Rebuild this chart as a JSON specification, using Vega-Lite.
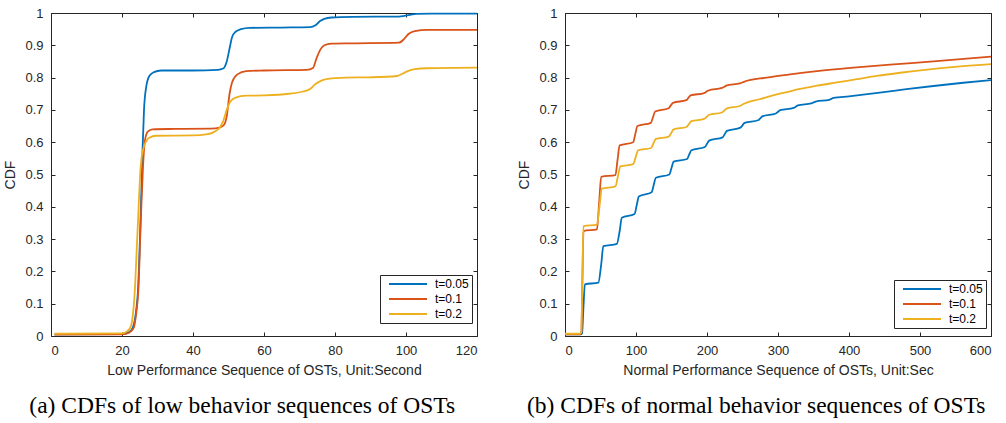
{
"$schema": "https://vega.github.io/schema/vega-lite/v6.json",
"padding": {"left": 3, "top": 6, "right": 3, "bottom": 3},
"datasets": {
"low": [
{"t":"t=0.05","x":1,"y":0.005},{"t":"t=0.05","x":20,"y":0.006},{"t":"t=0.05","x":22,"y":0.012},{"t":"t=0.05","x":23,"y":0.025},{"t":"t=0.05","x":24,"y":0.08},{"t":"t=0.05","x":24.5,"y":0.14},{"t":"t=0.05","x":25.2,"y":0.35},{"t":"t=0.05","x":25.8,"y":0.58},{"t":"t=0.05","x":26.2,"y":0.7},{"t":"t=0.05","x":26.8,"y":0.77},{"t":"t=0.05","x":27.7,"y":0.805},{"t":"t=0.05","x":29,"y":0.817},{"t":"t=0.05","x":31,"y":0.822},{"t":"t=0.05","x":40,"y":0.822},{"t":"t=0.05","x":47,"y":0.824},{"t":"t=0.05","x":48.5,"y":0.828},{"t":"t=0.05","x":49.5,"y":0.85},{"t":"t=0.05","x":50.3,"y":0.89},{"t":"t=0.05","x":51,"y":0.925},{"t":"t=0.05","x":52,"y":0.942},{"t":"t=0.05","x":53.5,"y":0.95},{"t":"t=0.05","x":56,"y":0.954},{"t":"t=0.05","x":65,"y":0.955},{"t":"t=0.05","x":73,"y":0.956},{"t":"t=0.05","x":74.5,"y":0.962},{"t":"t=0.05","x":75.8,"y":0.975},{"t":"t=0.05","x":77,"y":0.982},{"t":"t=0.05","x":79,"y":0.986},{"t":"t=0.05","x":85,"y":0.988},{"t":"t=0.05","x":98,"y":0.989},{"t":"t=0.05","x":99.5,"y":0.991},{"t":"t=0.05","x":101,"y":0.994},{"t":"t=0.05","x":103,"y":0.997},{"t":"t=0.05","x":107,"y":0.998},{"t":"t=0.05","x":120,"y":0.998},
{"t":"t=0.1","x":1,"y":0.004},{"t":"t=0.1","x":20,"y":0.005},{"t":"t=0.1","x":22,"y":0.01},{"t":"t=0.1","x":23.3,"y":0.025},{"t":"t=0.1","x":24,"y":0.07},{"t":"t=0.1","x":24.6,"y":0.14},{"t":"t=0.1","x":25.3,"y":0.36},{"t":"t=0.1","x":25.9,"y":0.52},{"t":"t=0.1","x":26.4,"y":0.6},{"t":"t=0.1","x":27.2,"y":0.632},{"t":"t=0.1","x":28.6,"y":0.64},{"t":"t=0.1","x":35,"y":0.641},{"t":"t=0.1","x":45,"y":0.642},{"t":"t=0.1","x":47.5,"y":0.645},{"t":"t=0.1","x":48.8,"y":0.655},{"t":"t=0.1","x":49.5,"y":0.68},{"t":"t=0.1","x":50.3,"y":0.75},{"t":"t=0.1","x":51,"y":0.785},{"t":"t=0.1","x":52.5,"y":0.81},{"t":"t=0.1","x":55,"y":0.82},{"t":"t=0.1","x":60,"y":0.822},{"t":"t=0.1","x":72,"y":0.824},{"t":"t=0.1","x":73.8,"y":0.83},{"t":"t=0.1","x":74.8,"y":0.86},{"t":"t=0.1","x":75.8,"y":0.885},{"t":"t=0.1","x":77,"y":0.9},{"t":"t=0.1","x":79,"y":0.905},{"t":"t=0.1","x":85,"y":0.906},{"t":"t=0.1","x":98,"y":0.908},{"t":"t=0.1","x":99.5,"y":0.92},{"t":"t=0.1","x":100.7,"y":0.935},{"t":"t=0.1","x":102.5,"y":0.944},{"t":"t=0.1","x":106,"y":0.948},{"t":"t=0.1","x":120,"y":0.948},
{"t":"t=0.2","x":1,"y":0.007},{"t":"t=0.2","x":20,"y":0.008},{"t":"t=0.2","x":21.5,"y":0.015},{"t":"t=0.2","x":22.5,"y":0.03},{"t":"t=0.2","x":23,"y":0.06},{"t":"t=0.2","x":23.5,"y":0.12},{"t":"t=0.2","x":24.4,"y":0.33},{"t":"t=0.2","x":25.3,"y":0.53},{"t":"t=0.2","x":26,"y":0.58},{"t":"t=0.2","x":26.8,"y":0.603},{"t":"t=0.2","x":27.7,"y":0.614},{"t":"t=0.2","x":29.6,"y":0.62},{"t":"t=0.2","x":40,"y":0.621},{"t":"t=0.2","x":43.7,"y":0.624},{"t":"t=0.2","x":46,"y":0.632},{"t":"t=0.2","x":47.5,"y":0.645},{"t":"t=0.2","x":48.5,"y":0.665},{"t":"t=0.2","x":49.5,"y":0.7},{"t":"t=0.2","x":50.5,"y":0.725},{"t":"t=0.2","x":52,"y":0.738},{"t":"t=0.2","x":55,"y":0.744},{"t":"t=0.2","x":60,"y":0.745},{"t":"t=0.2","x":67,"y":0.75},{"t":"t=0.2","x":71,"y":0.757},{"t":"t=0.2","x":73,"y":0.765},{"t":"t=0.2","x":74.5,"y":0.78},{"t":"t=0.2","x":76,"y":0.79},{"t":"t=0.2","x":78,"y":0.796},{"t":"t=0.2","x":83,"y":0.8},{"t":"t=0.2","x":90,"y":0.801},{"t":"t=0.2","x":97.5,"y":0.805},{"t":"t=0.2","x":99,"y":0.812},{"t":"t=0.2","x":100.5,"y":0.82},{"t":"t=0.2","x":102.5,"y":0.826},{"t":"t=0.2","x":106,"y":0.829},{"t":"t=0.2","x":120,"y":0.831}
],
"normal": [
{"t":"t=0.05","x":0,"y":0.005},{"t":"t=0.05","x":22,"y":0.005},{"t":"t=0.05","x":24,"y":0.008},{"t":"t=0.05","x":26,"y":0.09},{"t":"t=0.05","x":28,"y":0.16},{"t":"t=0.05","x":47,"y":0.165},{"t":"t=0.05","x":51,"y":0.222},{"t":"t=0.05","x":54,"y":0.278},{"t":"t=0.05","x":73,"y":0.285},{"t":"t=0.05","x":77,"y":0.325},{"t":"t=0.05","x":80,"y":0.366},{"t":"t=0.05","x":98,"y":0.378},{"t":"t=0.05","x":101,"y":0.405},{"t":"t=0.05","x":104,"y":0.432},{"t":"t=0.05","x":122,"y":0.445},{"t":"t=0.05","x":125,"y":0.468},{"t":"t=0.05","x":128,"y":0.49},{"t":"t=0.05","x":147,"y":0.5},{"t":"t=0.05","x":150,"y":0.52},{"t":"t=0.05","x":153,"y":0.54},{"t":"t=0.05","x":172,"y":0.548},{"t":"t=0.05","x":175,"y":0.562},{"t":"t=0.05","x":178,"y":0.575},{"t":"t=0.05","x":197,"y":0.585},{"t":"t=0.05","x":200,"y":0.595},{"t":"t=0.05","x":203,"y":0.605},{"t":"t=0.05","x":222,"y":0.615},{"t":"t=0.05","x":225,"y":0.625},{"t":"t=0.05","x":228,"y":0.635},{"t":"t=0.05","x":247,"y":0.645},{"t":"t=0.05","x":250,"y":0.652},{"t":"t=0.05","x":253,"y":0.66},{"t":"t=0.05","x":272,"y":0.668},{"t":"t=0.05","x":275,"y":0.674},{"t":"t=0.05","x":278,"y":0.68},{"t":"t=0.05","x":297,"y":0.689},{"t":"t=0.05","x":300,"y":0.694},{"t":"t=0.05","x":303,"y":0.699},{"t":"t=0.05","x":322,"y":0.706},{"t":"t=0.05","x":325,"y":0.71},{"t":"t=0.05","x":328,"y":0.714},{"t":"t=0.05","x":347,"y":0.72},{"t":"t=0.05","x":350,"y":0.723},{"t":"t=0.05","x":353,"y":0.726},{"t":"t=0.05","x":372,"y":0.731},{"t":"t=0.05","x":375,"y":0.734},{"t":"t=0.05","x":378,"y":0.737},{"t":"t=0.05","x":400,"y":0.742},{"t":"t=0.05","x":420,"y":0.747},{"t":"t=0.05","x":449,"y":0.755},{"t":"t=0.05","x":481,"y":0.764},{"t":"t=0.05","x":519,"y":0.774},{"t":"t=0.05","x":561,"y":0.784},{"t":"t=0.05","x":600,"y":0.792},
{"t":"t=0.1","x":0,"y":0.005},{"t":"t=0.1","x":21,"y":0.005},{"t":"t=0.1","x":23,"y":0.01},{"t":"t=0.1","x":24.5,"y":0.17},{"t":"t=0.1","x":26,"y":0.325},{"t":"t=0.1","x":45,"y":0.33},{"t":"t=0.1","x":48,"y":0.41},{"t":"t=0.1","x":51,"y":0.493},{"t":"t=0.1","x":71,"y":0.498},{"t":"t=0.1","x":74,"y":0.545},{"t":"t=0.1","x":77,"y":0.59},{"t":"t=0.1","x":96,"y":0.6},{"t":"t=0.1","x":99,"y":0.625},{"t":"t=0.1","x":102,"y":0.65},{"t":"t=0.1","x":121,"y":0.66},{"t":"t=0.1","x":124,"y":0.678},{"t":"t=0.1","x":127,"y":0.695},{"t":"t=0.1","x":146,"y":0.705},{"t":"t=0.1","x":149,"y":0.714},{"t":"t=0.1","x":152,"y":0.722},{"t":"t=0.1","x":171,"y":0.73},{"t":"t=0.1","x":174,"y":0.738},{"t":"t=0.1","x":177,"y":0.745},{"t":"t=0.1","x":196,"y":0.752},{"t":"t=0.1","x":199,"y":0.756},{"t":"t=0.1","x":202,"y":0.76},{"t":"t=0.1","x":221,"y":0.768},{"t":"t=0.1","x":224,"y":0.771},{"t":"t=0.1","x":227,"y":0.775},{"t":"t=0.1","x":246,"y":0.782},{"t":"t=0.1","x":249,"y":0.784},{"t":"t=0.1","x":252,"y":0.787},{"t":"t=0.1","x":284,"y":0.8},{"t":"t=0.1","x":317,"y":0.81},{"t":"t=0.1","x":355,"y":0.82},{"t":"t=0.1","x":402,"y":0.83},{"t":"t=0.1","x":458,"y":0.84},{"t":"t=0.1","x":519,"y":0.85},{"t":"t=0.1","x":600,"y":0.865},
{"t":"t=0.2","x":0,"y":0.007},{"t":"t=0.2","x":21,"y":0.007},{"t":"t=0.2","x":23,"y":0.012},{"t":"t=0.2","x":24.5,"y":0.18},{"t":"t=0.2","x":26,"y":0.34},{"t":"t=0.2","x":45,"y":0.345},{"t":"t=0.2","x":48.5,"y":0.4},{"t":"t=0.2","x":52,"y":0.456},{"t":"t=0.2","x":71,"y":0.463},{"t":"t=0.2","x":74.5,"y":0.494},{"t":"t=0.2","x":78,"y":0.525},{"t":"t=0.2","x":96,"y":0.532},{"t":"t=0.2","x":99.5,"y":0.553},{"t":"t=0.2","x":103,"y":0.575},{"t":"t=0.2","x":121,"y":0.582},{"t":"t=0.2","x":124.5,"y":0.596},{"t":"t=0.2","x":128,"y":0.61},{"t":"t=0.2","x":146,"y":0.617},{"t":"t=0.2","x":149.5,"y":0.628},{"t":"t=0.2","x":153,"y":0.64},{"t":"t=0.2","x":171,"y":0.647},{"t":"t=0.2","x":174.5,"y":0.656},{"t":"t=0.2","x":178,"y":0.665},{"t":"t=0.2","x":196,"y":0.672},{"t":"t=0.2","x":199.5,"y":0.678},{"t":"t=0.2","x":203,"y":0.685},{"t":"t=0.2","x":221,"y":0.692},{"t":"t=0.2","x":224.5,"y":0.698},{"t":"t=0.2","x":228,"y":0.705},{"t":"t=0.2","x":246,"y":0.712},{"t":"t=0.2","x":249.5,"y":0.716},{"t":"t=0.2","x":253,"y":0.72},{"t":"t=0.2","x":274,"y":0.733},{"t":"t=0.2","x":293,"y":0.745},{"t":"t=0.2","x":312,"y":0.755},{"t":"t=0.2","x":331,"y":0.765},{"t":"t=0.2","x":355,"y":0.775},{"t":"t=0.2","x":383,"y":0.785},{"t":"t=0.2","x":411,"y":0.795},{"t":"t=0.2","x":439,"y":0.805},{"t":"t=0.2","x":472,"y":0.815},{"t":"t=0.2","x":510,"y":0.825},{"t":"t=0.2","x":557,"y":0.835},{"t":"t=0.2","x":600,"y":0.842}
]
},
"config": {
"font": "Liberation Sans",
"view": {"stroke": "#262626", "strokeWidth": 1},
"axis": {"grid": false, "domain": false, "tickSize": -4, "tickColor": "#262626", "tickWidth": 1, "labelColor": "#262626", "labelFont": "Liberation Sans", "labelFontSize": 13, "titleFont": "Liberation Sans", "titleFontSize": 14, "titleFontWeight": "normal", "titleColor": "#262626", "labelPadding": 12},
"title": {"font": "Liberation Serif", "fontSize": 23.5, "fontWeight": "normal", "color": "#000000", "orient": "bottom", "anchor": "middle", "frame": "bounds", "offset": 17},
"legend": {"title": null, "orient": "none", "strokeColor": "#262626", "fillColor": "#ffffff", "padding": 3, "symbolType": "M0,0H19", "symbolSize": 16, "symbolStrokeWidth": 2, "labelFont": "Liberation Sans", "labelFontSize": 12, "labelColor": "#000000", "labelOffset": 40, "rowPadding": 3, "cornerRadius": 0}
},
"resolve": {"legend": {"color": "independent"}},
"spacing": 35,
"hconcat": [
{
"title": {"text": "(a) CDFs of low behavior sequences of OSTs"},
"width": 426, "height": 323,
"data": {"name": "low"},
"layer": [
{"mark": {"type": "line", "interpolate": "monotone", "strokeWidth": 1.8},
"encoding": {
"x": {"field": "x", "type": "quantitative", "scale": {"domain": [0, 120], "nice": false}, "axis": {"orient": "bottom", "values": [0,20,40,60,80,100,120], "title": "Low Performance Sequence of OSTs, Unit:Second", "titlePadding": 6}},
"y": {"field": "y", "type": "quantitative", "scale": {"domain": [0, 1], "nice": false}, "axis": {"orient": "left", "values": [0,0.1,0.2,0.3,0.4,0.5,0.6,0.7,0.8,0.9,1], "format": "~g", "title": "CDF", "titlePadding": 7}},
"color": {"field": "t", "type": "nominal", "scale": {"domain": ["t=0.05","t=0.1","t=0.2"], "range": ["#0072BD","#D95319","#EDB120"]}, "legend": {"legendX": 329, "legendY": 262}}
}},
{"mark": {"type": "point", "opacity": 0},
"encoding": {
"x": {"field": "x", "type": "quantitative", "axis": {"orient": "top", "labels": false, "title": null, "values": [0,20,40,60,80,100,120]}},
"y": {"field": "y", "type": "quantitative", "axis": {"orient": "right", "labels": false, "title": null, "values": [0,0.1,0.2,0.3,0.4,0.5,0.6,0.7,0.8,0.9,1]}}
}}
],
"resolve": {"axis": {"x": "independent", "y": "independent"}}
},
{
"title": {"text": "(b) CDFs of normal behavior sequences of OSTs"},
"width": 426, "height": 323,
"data": {"name": "normal"},
"layer": [
{"mark": {"type": "line", "interpolate": "monotone", "strokeWidth": 1.8},
"encoding": {
"x": {"field": "x", "type": "quantitative", "scale": {"domain": [0, 600], "nice": false}, "axis": {"orient": "bottom", "values": [0,100,200,300,400,500,600], "title": "Normal Performance Sequence of OSTs, Unit:Sec", "titlePadding": 6}},
"y": {"field": "y", "type": "quantitative", "scale": {"domain": [0, 1], "nice": false}, "axis": {"orient": "left", "values": [0,0.1,0.2,0.3,0.4,0.5,0.6,0.7,0.8,0.9,1], "format": "~g", "title": "CDF", "titlePadding": 7}},
"color": {"field": "t", "type": "nominal", "scale": {"domain": ["t=0.05","t=0.1","t=0.2"], "range": ["#0072BD","#D95319","#EDB120"]}, "legend": {"legendX": 329, "legendY": 267}}
}},
{"mark": {"type": "point", "opacity": 0},
"encoding": {
"x": {"field": "x", "type": "quantitative", "axis": {"orient": "top", "labels": false, "title": null, "values": [0,100,200,300,400,500,600]}},
"y": {"field": "y", "type": "quantitative", "axis": {"orient": "right", "labels": false, "title": null, "values": [0,0.1,0.2,0.3,0.4,0.5,0.6,0.7,0.8,0.9,1]}}
}}
],
"resolve": {"axis": {"x": "independent", "y": "independent"}}
}
]
}
